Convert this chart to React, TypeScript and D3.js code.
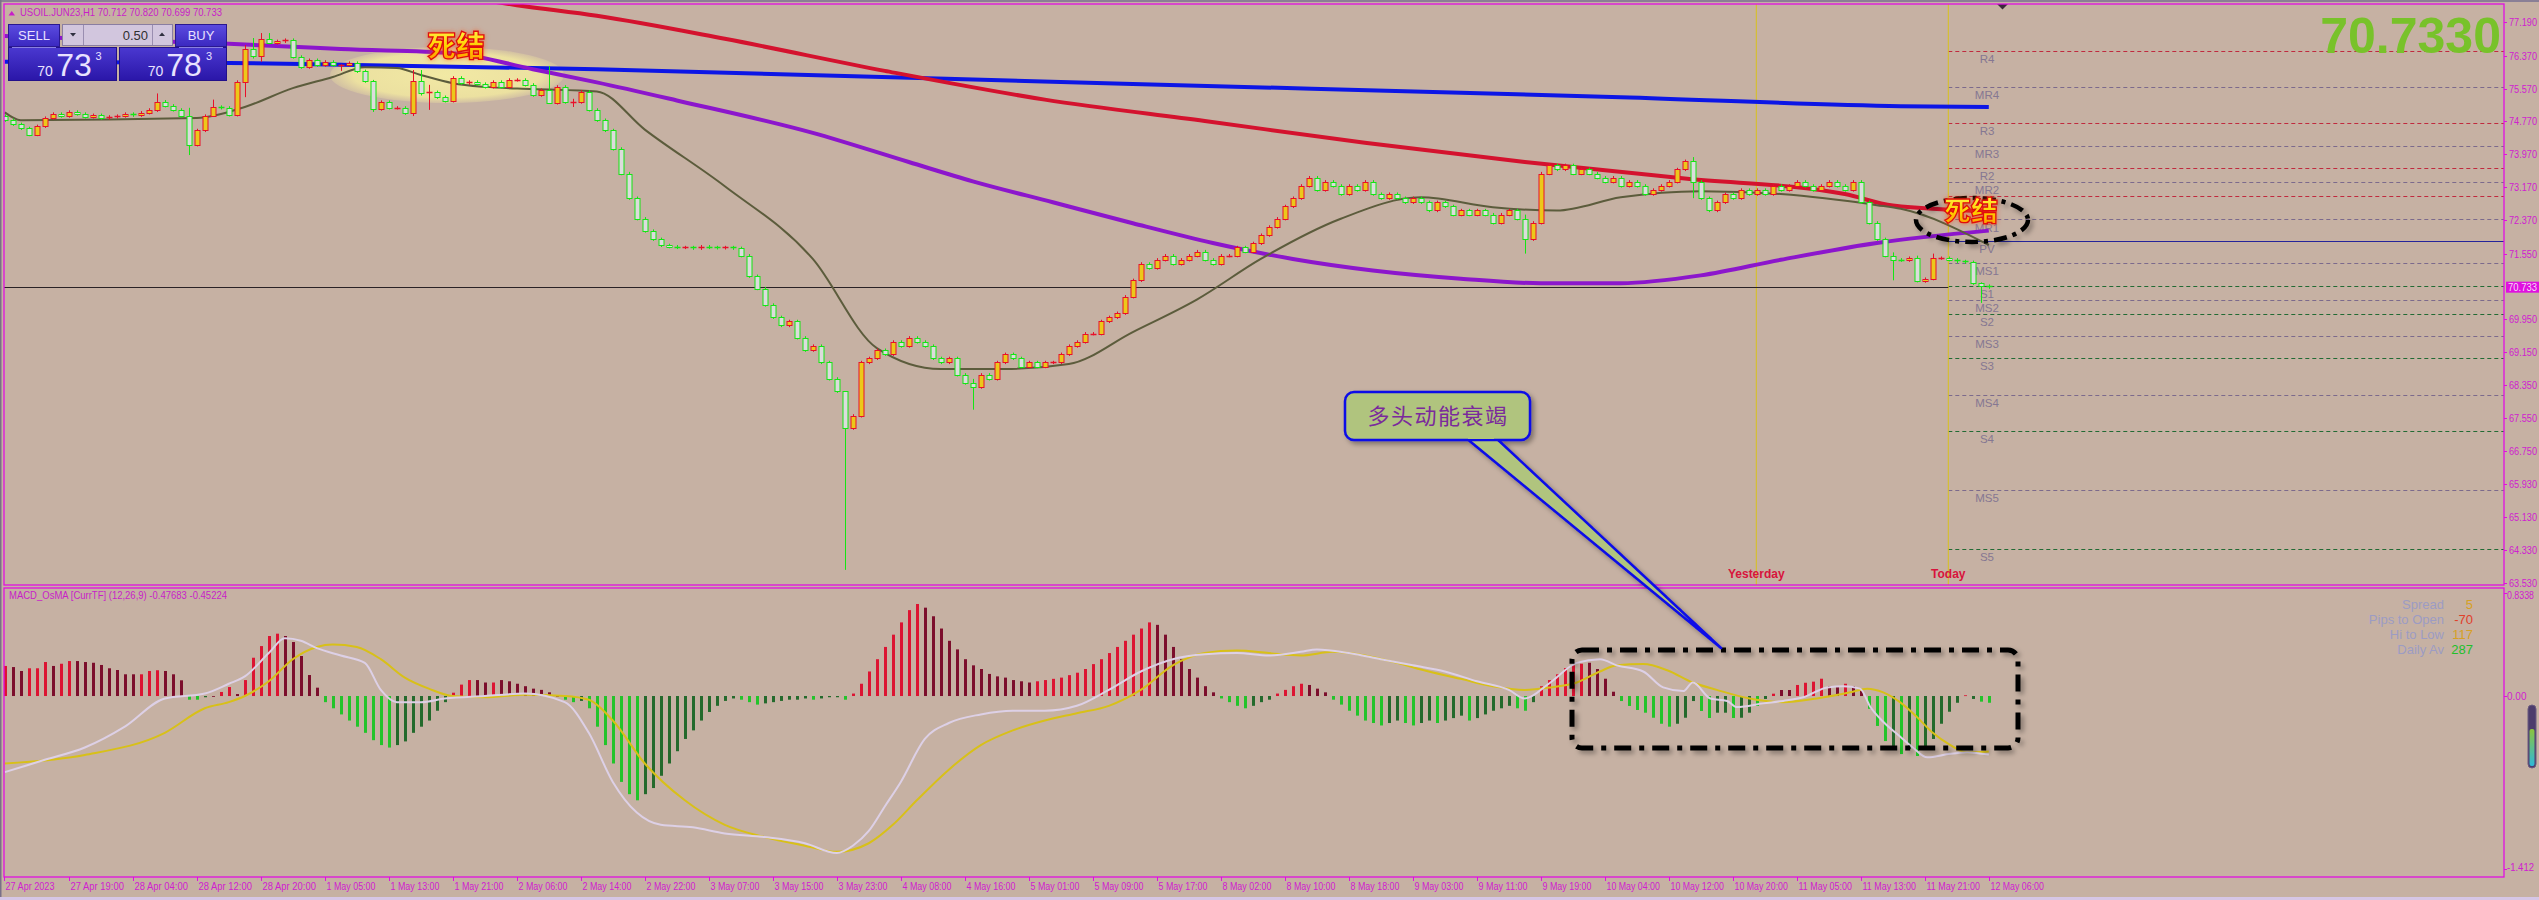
import React from "react";
import * as d3 from "d3";

const W = 2539;
const H = 900;

// ---------------- DATA ----------------
const closes: number[] = [
  74.80, 74.70, 74.60, 74.45, 74.65, 74.85, 74.95, 74.90, 75.00, 74.95,
  74.88, 74.92, 74.85, 74.88, 74.90, 74.95, 74.92, 74.98, 75.05, 75.25,
  75.15, 75.05, 74.90, 74.20, 74.55, 74.90, 75.12, 75.10, 74.93, 75.73,
  76.53, 76.36, 76.78, 76.68, 76.72, 76.75, 76.34, 76.09, 76.26, 76.14,
  76.22, 76.14, 76.15, 76.19, 75.99, 75.75, 75.07, 75.24, 75.10, 75.10,
  74.97, 75.76, 75.46, 75.48, 75.36, 75.27, 75.83, 75.70, 75.73, 75.68,
  75.61, 75.73, 75.61, 75.78, 75.78, 75.66, 75.41, 75.53, 75.22, 75.61,
  75.24, 75.24, 75.49, 75.05, 74.80, 74.55, 74.10, 73.50, 72.90, 72.40,
  72.10, 71.90, 71.75, 71.72, 71.70, 71.70, 71.68, 71.72, 71.70, 71.69,
  71.70, 71.68, 71.50, 71.00, 70.70, 70.30, 70.00, 69.80, 69.90, 69.50,
  69.20, 69.30, 68.90, 68.50, 68.20, 67.30, 67.60, 68.90, 69.00, 69.20,
  69.10, 69.40, 69.30, 69.50, 69.40, 69.30, 69.00, 68.90, 69.00, 68.60,
  68.40, 68.30, 68.60, 68.50, 68.90, 69.10, 69.00, 68.80, 68.90, 68.80,
  68.90, 68.90, 69.10, 69.30, 69.40, 69.60, 69.60, 69.90, 70.00, 70.10,
  70.50, 70.90, 71.30, 71.20, 71.40, 71.50, 71.30, 71.40, 71.50, 71.60,
  71.40, 71.30, 71.50, 71.50, 71.70, 71.60, 71.80, 72.00, 72.20, 72.40,
  72.70, 72.90, 73.20, 73.40, 73.10, 73.30, 73.20, 73.00, 73.20, 73.10,
  73.30, 73.00, 72.90, 73.00, 72.90, 72.80, 72.90, 72.80, 72.60, 72.80,
  72.70, 72.50, 72.60, 72.50, 72.60, 72.50, 72.30, 72.50, 72.60, 72.40,
  71.90, 72.30, 73.50, 73.70, 73.60, 73.70, 73.50, 73.60, 73.50, 73.40,
  73.30, 73.40, 73.20, 73.30, 73.20, 73.00, 73.10, 73.20, 73.30, 73.60,
  73.80, 73.30, 72.90, 72.60, 72.80, 73.00, 72.90, 73.10, 73.00, 73.10,
  73.00, 73.20, 73.10, 73.20, 73.30, 73.20, 73.10, 73.20, 73.30, 73.20,
  73.10, 73.30, 72.80, 72.30, 71.90, 71.50, 71.40, 71.39, 71.44, 70.88,
  70.93, 71.44, 71.44, 71.40, 71.36, 71.34, 70.83, 70.76, 70.733,
];
const firstOpen = 74.9;

// [bar, high, low] for bars with notable shadows
const wicks: [number, number, number][] = [
  [19, 75.45, 75.0], [23, 75.1, 73.95], [26, 75.3, 74.9], [30, 76.63, 75.36],
  [31, 76.8, 76.3], [32, 76.92, 76.22], [33, 76.92, 76.65], [42, 76.16, 76.0],
  [46, 75.78, 75.0], [51, 76.02, 74.9], [52, 76.02, 75.4], [53, 75.66, 75.05],
  [68, 76.12, 75.2], [71, 75.32, 75.12], [105, 68.1, 63.85], [121, 68.5, 67.75],
  [190, 72.5, 71.55], [211, 73.9, 72.9], [236, 71.58, 70.9], [239, 71.5, 70.85],
  [241, 71.55, 70.9], [247, 70.85, 70.35],
];

const redMA: [number, number][] = [
  [60, 77.72], [64, 77.6], [74, 77.34], [90, 76.78], [110, 76.0], [130, 75.3],
  [150, 74.78], [170, 74.25], [190, 73.78], [210, 73.38], [230, 73.0], [236, 72.72], [248, 72.58],
];
const blueMA: [number, number][] = [
  [0, 76.22], [28, 76.19], [37, 76.17], [74, 76.04], [141, 75.68], [202, 75.36], [237, 75.14], [248, 75.12],
];
const purpleMA: [number, number][] = [
  [0, 76.85], [28, 76.66], [36, 76.59], [42, 76.53], [56, 76.43], [66, 76.04], [74, 75.72],
  [84, 75.28], [101, 74.49], [113, 73.78], [121, 73.31], [131, 72.8], [141, 72.29], [151, 71.81],
  [161, 71.42], [171, 71.14], [182, 70.94], [192, 70.83], [202, 70.83], [212, 71.02], [222, 71.4],
  [234, 71.81], [248, 72.11],
];
const oliveMA: [number, number][] = [
  [0, 74.99], [2, 74.8], [24, 74.85], [30, 75.12], [36, 75.58], [41, 75.85], [45, 76.09],
  [49, 76.07], [52, 75.9], [56, 75.7], [60, 75.61], [66, 75.56], [74, 75.5], [80, 74.57],
  [90, 73.19], [101, 71.42], [109, 69.25], [117, 68.74], [125, 68.74], [133, 68.86], [141, 69.64],
  [149, 70.43], [157, 71.42], [167, 72.4], [177, 72.92], [186, 72.68], [194, 72.6], [202, 72.92],
  [212, 73.07], [222, 73.0], [234, 72.73], [237, 72.64], [248, 71.76],
];

// MACD OsMA histogram (one value per bar) and shade (1 = bright, 0 = dark)
const histVals: number[] = [
  0.245, 0.236, 0.204, 0.226, 0.226, 0.277, 0.245, 0.263, 0.285, 0.285,
  0.277, 0.271, 0.253, 0.226, 0.212, 0.177, 0.177, 0.177, 0.204, 0.21,
  0.204, 0.177, 0.128, -0.03, -0.03, -0.01, 0.0, 0.033, 0.073, 0.016,
  0.13, 0.312, 0.407, 0.489, 0.508, 0.489, 0.44, 0.326, 0.171, 0.068,
  -0.05, -0.1, -0.15, -0.2, -0.25, -0.3, -0.36, -0.4, -0.42, -0.4,
  -0.37, -0.3, -0.25, -0.2, -0.12, -0.05, 0.027, 0.093, 0.13, 0.13,
  0.11, 0.11, 0.13, 0.12, 0.1, 0.08, 0.06, 0.05, 0.03, 0.0,
  -0.03, -0.05, -0.04, -0.1, -0.25, -0.4, -0.55, -0.7, -0.8, -0.85,
  -0.8, -0.75, -0.65, -0.55, -0.45, -0.35, -0.28, -0.2, -0.13, -0.08,
  -0.04, -0.02, -0.03, -0.05, -0.07, -0.06, -0.05, -0.04, -0.03, -0.03,
  -0.02, -0.03, -0.02, -0.01, -0.01, -0.03, 0.02, 0.1, 0.2, 0.3,
  0.4, 0.5, 0.6, 0.7, 0.75, 0.72, 0.65, 0.55, 0.45, 0.38,
  0.3, 0.25, 0.22, 0.18, 0.16, 0.15, 0.13, 0.12, 0.11, 0.12,
  0.13, 0.14, 0.15, 0.17, 0.19, 0.22, 0.26, 0.3, 0.35, 0.4,
  0.45, 0.5, 0.55, 0.6, 0.58, 0.5, 0.4, 0.3, 0.22, 0.15,
  0.08, 0.03, -0.02, -0.05, -0.08, -0.1, -0.08, -0.05, -0.03, 0.02,
  0.05, 0.08, 0.1, 0.09, 0.06, 0.03, -0.03, -0.07, -0.12, -0.16,
  -0.2, -0.22, -0.24, -0.22, -0.2, -0.22, -0.24, -0.22, -0.2, -0.22,
  -0.2, -0.18, -0.16, -0.2, -0.18, -0.15, -0.12, -0.1, -0.08, -0.1,
  -0.12, -0.05, 0.08, 0.13, 0.177, 0.228, 0.25, 0.263, 0.271, 0.22,
  0.141, 0.035, -0.041, -0.081, -0.114, -0.136, -0.177, -0.226, -0.25, -0.226,
  -0.177, -0.041, -0.122, -0.179, -0.136, -0.136, -0.179, -0.177, -0.136, -0.081,
  -0.024, 0.019, 0.049, 0.049, 0.09, 0.108, 0.117, 0.141, 0.081, 0.073,
  0.1, 0.081, 0.041, -0.104, -0.244, -0.367, -0.407, -0.473, -0.432, -0.489,
  -0.421, -0.35, -0.226, -0.128, -0.055, 0.006, -0.024, -0.046, -0.055,
];
const histShade: number[] = [
  1, 0, 0, 1, 1, 1, 0, 1, 1, 0, 0, 0, 0, 0, 0, 0, 0, 1, 1, 1,
  0, 0, 0, 1, 1, 0, 0, 1, 1, 0, 1, 1, 1, 1, 1, 0, 0, 0, 0, 0,
  1, 1, 1, 1, 1, 1, 1, 1, 1, 0, 0, 0, 0, 0, 0, 0, 1, 1, 1, 0,
  0, 1, 0, 0, 0, 0, 0, 0, 0, 0, 1, 1, 0, 1, 1, 1, 1, 1, 1, 1,
  0, 0, 0, 0, 0, 0, 0, 0, 0, 0, 0, 0, 1, 1, 1, 0, 0, 0, 0, 0,
  0, 1, 0, 0, 0, 1, 1, 1, 1, 1, 1, 1, 1, 1, 1, 0, 0, 0, 0, 0,
  0, 0, 0, 0, 0, 0, 0, 0, 0, 1, 1, 1, 1, 1, 1, 1, 1, 1, 1, 1,
  1, 1, 1, 1, 0, 0, 0, 0, 0, 0, 0, 0, 1, 1, 1, 1, 0, 0, 0, 1,
  1, 1, 1, 0, 0, 0, 1, 1, 1, 1, 1, 1, 1, 0, 0, 1, 1, 0, 0, 1,
  0, 0, 0, 1, 0, 0, 0, 0, 0, 1, 1, 0, 1, 1, 1, 1, 1, 1, 0, 0,
  0, 0, 1, 1, 1, 1, 1, 1, 1, 0, 0, 0, 1, 1, 0, 0, 1, 0, 0, 1,
  0, 1, 0, 0, 1, 1, 1, 1, 0, 0, 1, 0, 0, 1, 1, 1, 0, 1, 0, 1,
  0, 0, 0, 0, 0, 1, 0, 1, 1,
];
const macdLine: [number, number][] = [
  [0, -0.62], [5, -0.52], [10, -0.42], [15, -0.25], [20, -0.02], [25, 0.02], [28, 0.1],
  [30, 0.16], [33, 0.35], [35, 0.47], [37, 0.45], [39, 0.39], [42, 0.33], [45, 0.27],
  [47, 0.05], [49, -0.05], [52, -0.05], [55, -0.02], [60, 0.0], [65, 0.02], [70, -0.05],
  [73, -0.3], [76, -0.7], [79, -0.95], [82, -1.05], [86, -1.07], [90, -1.12], [95, -1.15],
  [100, -1.2], [104, -1.28], [106, -1.22], [108, -1.1], [110, -0.9], [112, -0.7], [115, -0.35],
  [118, -0.22], [122, -0.15], [126, -0.12], [130, -0.12], [134, -0.08], [138, 0.05], [142, 0.2],
  [146, 0.3], [150, 0.34], [154, 0.35], [158, 0.33], [162, 0.36], [164, 0.38], [168, 0.35],
  [172, 0.3], [176, 0.25], [180, 0.2], [184, 0.12], [188, 0.05], [190, -0.02], [193, 0.1],
  [196.5, 0.27], [199.4, 0.3], [201.5, 0.25], [204.8, 0.2], [207.3, 0.07], [209.8, 0.04],
  [211, 0.11], [213.2, -0.02], [215.3, -0.04], [216.5, -0.09], [219.8, -0.06], [222.3, -0.04],
  [224.8, -0.01], [227.8, 0.07], [229.8, 0.08], [231.9, 0.06], [233.2, -0.09], [234.8, -0.21],
  [236.9, -0.33], [238.5, -0.42], [240.3, -0.5], [243.2, -0.47], [245.3, -0.46], [248, -0.477],
];
const signalLine: [number, number][] = [
  [0, -0.55], [10, -0.48], [20, -0.3], [25, -0.1], [28, -0.05], [30, 0.0], [33, 0.12],
  [36, 0.3], [39, 0.4], [41, 0.42], [44, 0.4], [47, 0.3], [50, 0.15], [53, 0.06], [56, 0.0],
  [60, -0.01], [65, 0.01], [70, 0.0], [73, -0.03], [76, -0.2], [80, -0.55], [85, -0.85],
  [90, -1.05], [95, -1.15], [100, -1.22], [104, -1.27], [108, -1.2], [111, -1.05], [114, -0.85],
  [118, -0.6], [122, -0.4], [126, -0.28], [130, -0.2], [134, -0.14], [138, -0.08], [142, 0.05],
  [146, 0.25], [150, 0.35], [154, 0.37], [158, 0.35], [162, 0.33], [166, 0.36], [170, 0.33],
  [174, 0.27], [178, 0.2], [182, 0.14], [186, 0.08], [190, 0.05], [193.2, 0.07], [196.5, 0.11],
  [199.4, 0.2], [201.5, 0.25], [204.8, 0.26], [207.8, 0.21], [211, 0.11], [214, 0.05],
  [218.1, -0.02], [222.3, -0.05], [226.5, -0.02], [230.7, 0.03], [232.8, 0.06], [234.8, 0.03],
  [236.9, -0.05], [239, -0.17], [241, -0.3], [243.2, -0.4], [245.3, -0.46], [248, -0.452],
];

const priceTicks = [77.19, 76.37, 75.57, 74.77, 73.97, 73.17, 72.37, 71.55, 69.95, 69.15, 68.35, 67.55, 66.75, 65.93, 65.13, 64.33, 63.53];
const macdTicks = ["0.8338", "0.00", "-1.412"];
const timeLabels = [
  "27 Apr 2023", "27 Apr 19:00", "28 Apr 04:00", "28 Apr 12:00", "28 Apr 20:00", "1 May 05:00",
  "1 May 13:00", "1 May 21:00", "2 May 06:00", "2 May 14:00", "2 May 22:00", "3 May 07:00",
  "3 May 15:00", "3 May 23:00", "4 May 08:00", "4 May 16:00", "5 May 01:00", "5 May 09:00",
  "5 May 17:00", "8 May 02:00", "8 May 10:00", "8 May 18:00", "9 May 03:00", "9 May 11:00",
  "9 May 19:00", "10 May 04:00", "10 May 12:00", "10 May 20:00", "11 May 05:00", "11 May 13:00",
  "11 May 21:00", "12 May 06:00",
];
const timeLabelBars = timeLabels.map((_, k) => k * 8);

const pivotNames = ["R4", "MR4", "R3", "MR3", "R2", "MR2", "R1", "MR1", "PV", "MS1", "S1", "MS2", "S2", "MS3", "S3", "MS4", "S4", "MS5", "S5"];
const pivotValues = [76.476, 75.6, 74.723, 74.17, 73.627, 73.286, 72.946, 72.386, 71.865, 71.315, 70.762, 70.414, 70.08, 69.537, 69.001, 68.101, 67.224, 65.787, 64.35];
// R1 label is hidden under the annotation in the original
const hiddenPivotLabels = ["R1"];

const statLabels = ["Spread", "Pips to Open", "Hi to Low", "Daily Av"];
const statValues = ["5", "-70", "117", "287"];
const statColors = ["#d6a024", "#e0402a", "#d6a024", "#22c02a"];

const yesterdayBar = 219;
const todayBar = 243;
const lastPrice = 70.733;

// ---------------- LAYOUT ----------------
const L = 4, R = 2504;
const mainTop = 4, mainBot = 585;
const macdTop = 588, macdBot = 877;

const BG = "#c6b1a3";
const FRAME = "#e010e0";
const AXTXT = "#d020d0";

export default function App() {
  const x = d3.scaleLinear().domain([0, 248]).range([4.8, 1988.8]);
  const y = d3.scaleLinear().domain([63.481, 77.628]).range([mainBot, mainTop]);
  const ym = d3.scaleLinear().domain([-1.4123, 0.83387]).range([869.3, 593.7]);

  const wickMap = new Map<number, [number, number]>();
  wicks.forEach(([i, h, l]) => wickMap.set(i, [h, l]));
  const candles = closes.map((c, i) => {
    const o = i === 0 ? firstOpen : closes[i - 1];
    const w = wickMap.get(i);
    const h = w ? w[0] : Math.max(o, c) + 0.04;
    const l = w ? w[1] : Math.min(o, c) - 0.04;
    return { i, o, h, l, c };
  });

  const maLine = d3
    .line<[number, number]>()
    .x((d) => x(d[0]))
    .y((d) => y(d[1]))
    .curve(d3.curveMonotoneX);
  const mLine = d3
    .line<[number, number]>()
    .x((d) => x(d[0]))
    .y((d) => ym(d[1]))
    .curve(d3.curveMonotoneX);

  const xToday = x(todayBar) - 0.5;
  const xYest = x(yesterdayBar) - 0.5;
  const mono = "'Liberation Sans', Arial, sans-serif";
  const cjk = "'Noto Sans CJK SC', sans-serif";

  return (
    <svg
      width={W}
      height={H}
      viewBox={`0 0 ${W} ${H}`}
      style={{ position: "absolute", left: 0, top: 0, display: "block" }}
      fontFamily={mono}
    >
      <defs>
        <clipPath id="clipMain">
          <rect x={L} y={mainTop} width={R - L} height={mainBot - mainTop} />
        </clipPath>
        <clipPath id="clipMacd">
          <rect x={L} y={macdTop} width={R - L} height={macdBot - macdTop} />
        </clipPath>
        <linearGradient id="sjGrad" x1="0" y1="0" x2="0" y2="1">
          <stop offset="0" stopColor="#ffff60" />
          <stop offset="0.55" stopColor="#ffd000" />
          <stop offset="1" stopColor="#ff8a00" />
        </linearGradient>
        <linearGradient id="btnGrad" x1="0" y1="0" x2="0" y2="1">
          <stop offset="0" stopColor="#5c4ce0" />
          <stop offset="1" stopColor="#3a28c0" />
        </linearGradient>
        <linearGradient id="pxGrad" x1="0" y1="0" x2="0" y2="1">
          <stop offset="0" stopColor="#4a38d0" />
          <stop offset="1" stopColor="#2a16a8" />
        </linearGradient>
        <linearGradient id="gaugeGrad" x1="0" y1="0" x2="0" y2="1">
          <stop offset="0" stopColor="#8cc43c" />
          <stop offset="1" stopColor="#30b8d8" />
        </linearGradient>
        <radialGradient id="ellGrad">
          <stop offset="0" stopColor="#f4eca4" stopOpacity="0.95" />
          <stop offset="0.8" stopColor="#f0e6a0" stopOpacity="0.9" />
          <stop offset="1" stopColor="#efe4a0" stopOpacity="0.3" />
        </radialGradient>
        <filter id="glow" x="-30%" y="-30%" width="160%" height="160%">
          <feGaussianBlur in="SourceAlpha" stdDeviation="2.5" result="b" />
          <feFlood floodColor="#ff4000" floodOpacity="0.6" />
          <feComposite in2="b" operator="in" result="g" />
          <feMerge>
            <feMergeNode in="g" />
            <feMergeNode in="SourceGraphic" />
          </feMerge>
        </filter>
        <filter id="shadow" x="-10%" y="-20%" width="130%" height="150%">
          <feDropShadow dx="3" dy="3" stdDeviation="2.5" floodColor="#000" floodOpacity="0.35" />
        </filter>
      </defs>

      <rect x={0} y={0} width={W} height={H} fill={BG} />
      <rect x={0} y={0} width={W} height={2} fill="#8a7f96" />
      <rect x={0} y={0} width={1.5} height={H} fill="#7a7088" />
      <rect x={0} y={897} width={W} height={3} fill="#d6c6e6" />

      {/* ---------- MAIN PANEL ---------- */}
      <g clipPath="url(#clipMain)">
        <ellipse cx={447} cy={75} rx={117} ry={28} fill="url(#ellGrad)" />

        {pivotNames.map((n, k) => {
          const yy = Math.round(y(pivotValues[k])) + 0.5;
          const col = n === "PV" ? "#24249a" : n.startsWith("M") ? "#7c6a8c" : n.startsWith("R") ? "#c02a3e" : "#226a34";
          return (
            <g key={n}>
              <line
                x1={xToday}
                x2={R}
                y1={yy}
                y2={yy}
                stroke={col}
                strokeWidth={1}
                strokeDasharray={n === "PV" ? undefined : "4 3"}
              />
              {hiddenPivotLabels.includes(n) ? null : (
                <text x={1987} y={yy + (n === "MR1" ? 12.5 : 11.5)} fontSize={11.5} fill="#857792" textAnchor="middle">
                  {n}
                </text>
              )}
            </g>
          );
        })}

        <line x1={xYest} x2={xYest} y1={mainTop} y2={mainBot} stroke="#d8c21c" strokeWidth={1} />
        <line x1={xToday} x2={xToday} y1={mainTop} y2={mainBot} stroke="#d8c21c" strokeWidth={1} />

        <line x1={L} x2={xToday} y1={Math.round(y(lastPrice)) + 0.5} y2={Math.round(y(lastPrice)) + 0.5} stroke="#2a2226" strokeWidth={1} />

        <path d={maLine(blueMA) || ""} fill="none" stroke="#0c16e6" strokeWidth={4} />
        <path d={maLine(redMA) || ""} fill="none" stroke="#d4122e" strokeWidth={4} />
        <path d={maLine(purpleMA) || ""} fill="none" stroke="#8c16cc" strokeWidth={4} />
        <path d={maLine(oliveMA) || ""} fill="none" stroke="#5c5c3c" strokeWidth={2} />

        {candles.map((d) => {
          const cx = Math.round(x(d.i)) + 0.5;
          const bull = d.c >= d.o;
          const stroke = bull ? "#e8102a" : "#14e614";
          const fill = bull ? "#ecc81a" : "#dcdcdc";
          const yTop = Math.round(y(Math.max(d.o, d.c))) + 0.5;
          const yBot = Math.round(y(Math.min(d.o, d.c))) + 0.5;
          const doji = yBot - yTop < 2;
          return (
            <g key={d.i}>
              <line x1={cx} x2={cx} y1={y(d.h)} y2={y(d.l)} stroke={stroke} strokeWidth={1} />
              {doji ? (
                <line x1={cx - 3} x2={cx + 3} y1={yTop} y2={yTop} stroke={stroke} strokeWidth={1.5} />
              ) : (
                <rect x={cx - 2.5} y={yTop} width={5} height={yBot - yTop} fill={fill} stroke={stroke} strokeWidth={1} />
              )}
            </g>
          );
        })}

        <text
          x={456}
          y={57}
          fontFamily={cjk}
          fontWeight={900}
          fontSize={29}
          textAnchor="middle"
          fill="url(#sjGrad)"
          stroke="#e00a0a"
          strokeWidth={1.3}
          filter="url(#glow)"
        >
          死结
        </text>

        <ellipse
          cx={1972}
          cy={220}
          rx={56}
          ry={22}
          fill="none"
          stroke="#000"
          strokeWidth={4.5}
          strokeDasharray="13 6 4 6"
          filter="url(#shadow)"
        />
        <text
          x={1971}
          y={221}
          fontFamily={cjk}
          fontWeight={900}
          fontSize={27}
          textAnchor="middle"
          fill="url(#sjGrad)"
          stroke="#e00a0a"
          strokeWidth={1.3}
          filter="url(#glow)"
        >
          死结
        </text>

        <text x={xYest} y={578} fontSize={12} fontWeight="bold" fill="#d8143c" textAnchor="middle">
          Yesterday
        </text>
        <text x={xToday} y={578} fontSize={12} fontWeight="bold" fill="#d8143c" textAnchor="middle">
          Today
        </text>

        <text x={2501} y={53} fontSize={50} fontWeight="bold" fill="#78c22a" textAnchor="end" fontFamily="'Liberation Sans', Arial">
          70.7330
        </text>

        <polygon points="1997,4 2008,4 2002.5,9.5" fill="#3a2a3a" />

        <polygon points="8.5,15.5 15,15.5 11.75,11" fill="#c81ec8" />
        <text x={20} y={16} fontSize={10.5} fill="#c81ec8" textLength={202} lengthAdjust="spacingAndGlyphs">
          USOIL.JUN23,H1  70.712 70.820 70.699 70.733
        </text>

        <g>
          <rect x={8.5} y={24.5} width={51} height={22} fill="url(#btnGrad)" stroke="#2a1890" />
          <text x={34} y={40} fontSize={13} fill="#e8e0ff" textAnchor="middle">SELL</text>
          <rect x={175.5} y={24.5} width={51} height={22} fill="url(#btnGrad)" stroke="#2a1890" />
          <text x={201} y={40} fontSize={13} fill="#e8e0ff" textAnchor="middle">BUY</text>
          <rect x={62.5} y={24.5} width={110} height={21} fill="#d2c6de" stroke="#8a7ea2" />
          <line x1={83.5} x2={83.5} y1={25} y2={45} stroke="#9a8eb0" />
          <line x1={152.5} x2={152.5} y1={25} y2={45} stroke="#9a8eb0" />
          <polygon points="70,33 76,33 73,36.5" fill="#303040" />
          <polygon points="159,36 165,36 162,32.5" fill="#303040" />
          <text x={148} y={40} fontSize={13} fill="#303030" textAnchor="end">0.50</text>
          <rect x={8.5} y={47.5} width={108} height={33} fill="url(#pxGrad)" stroke="#22108a" />
          <rect x={119.5} y={47.5} width={107} height={33} fill="url(#pxGrad)" stroke="#22108a" />
          <line x1={12} x2={56} y1={47.5} y2={47.5} stroke="#8a80e0" />
          <line x1={179} x2={223} y1={47.5} y2={47.5} stroke="#8a80e0" />
          <text x={45} y={76} fontSize={14} fill="#e8e2ff" textAnchor="middle">70</text>
          <text x={74} y={76} fontSize={32} fill="#e8e2ff" textAnchor="middle">73</text>
          <text x={98.5} y={60} fontSize={11} fill="#e8e2ff" textAnchor="middle">3</text>
          <text x={155.5} y={76} fontSize={14} fill="#e8e2ff" textAnchor="middle">70</text>
          <text x={184} y={76} fontSize={32} fill="#e8e2ff" textAnchor="middle">78</text>
          <text x={209} y={60} fontSize={11} fill="#e8e2ff" textAnchor="middle">3</text>
        </g>
      </g>

      <rect x={L} y={mainTop} width={R - L} height={mainBot - mainTop} fill="none" stroke={FRAME} strokeWidth={1.3} />

      {priceTicks.map((p) => {
        const yy = Math.round(y(p)) + 0.5;
        return (
          <g key={p}>
            <line x1={R} x2={R + 3} y1={yy} y2={yy} stroke={FRAME} />
            <text x={2509} y={yy + 3.5} fontSize={10} fill={AXTXT} textLength={28} lengthAdjust="spacingAndGlyphs">
              {p.toFixed(3)}
            </text>
          </g>
        );
      })}
      <rect x={2506} y={y(lastPrice) - 5.5} width={33} height={11} fill="#e010e0" />
      <text x={2508} y={y(lastPrice) + 4} fontSize={10} fill="#f4dcf4" textLength={29} lengthAdjust="spacingAndGlyphs">
        70.733
      </text>

      {/* ---------- MACD PANEL ---------- */}
      <g clipPath="url(#clipMacd)">
        {histVals.map((v, i) => {
          const cx = Math.round(x(i));
          const y0 = ym(0);
          const y1 = ym(v);
          const pos = v >= 0;
          const col = pos ? (histShade[i] ? "#dc1432" : "#7c0e2c") : histShade[i] ? "#22c42a" : "#246a2c";
          return (
            <rect key={i} x={cx - 1} y={Math.min(y0, y1)} width={3} height={Math.max(0.8, Math.abs(y1 - y0))} fill={col} />
          );
        })}
        <path d={mLine(signalLine) || ""} fill="none" stroke="#d8c018" strokeWidth={2} />
        <path d={mLine(macdLine) || ""} fill="none" stroke="#ddd0e6" strokeWidth={2} />

        <text x={9} y={599} fontSize={10.5} fill="#c81ec8" textLength={218} lengthAdjust="spacingAndGlyphs">
          MACD_OsMA [CurrTF] (12,26,9) -0.47683 -0.45224
        </text>

        {statLabels.map((s, k) => (
          <g key={s}>
            <text x={2444} y={609 + k * 15} fontSize={13} fill="#9c9cc4" textAnchor="end">{s}</text>
            <text x={2473} y={609 + k * 15} fontSize={13} fill={statColors[k]} textAnchor="end" fontWeight={500}>
              {statValues[k]}
            </text>
          </g>
        ))}

        <rect
          x={1572}
          y={650}
          width={446}
          height={98}
          rx={10}
          fill="none"
          stroke="#000"
          strokeWidth={5}
          strokeDasharray="17 8 5 8"
          filter="url(#shadow)"
        />
      </g>
      <rect x={L} y={macdTop} width={R - L} height={macdBot - macdTop} fill="none" stroke={FRAME} strokeWidth={1.3} />

      {macdTicks.map((t, k) => {
        const yy = k === 0 ? 593.5 : k === 2 ? 869.5 : Math.round(ym(0)) + 0.5;
        return (
          <g key={t}>
            <line x1={R} x2={R + 3} y1={yy} y2={yy} stroke={FRAME} />
            <text
              x={2507}
              y={k === 0 ? yy + 5 : k === 2 ? yy + 1.5 : yy + 3.5}
              fontSize={10}
              fill={AXTXT}
              textLength={t.length > 4 ? 27 : undefined}
              lengthAdjust="spacingAndGlyphs"
            >
              {t}
            </text>
          </g>
        );
      })}

      <rect x={2528} y={705} width={8} height={63} rx={4} fill="#4c3c6c" stroke="#6a5a80" />
      <rect x={2529.5} y={729} width={5} height={37} rx={2} fill="url(#gaugeGrad)" />

      {timeLabels.map((t, k) => {
        const xx = k === 0 ? 4.5 : Math.round(x(timeLabelBars[k])) + 0.5;
        return (
          <g key={t}>
            <line x1={xx} x2={xx} y1={macdBot} y2={macdBot + 4} stroke={FRAME} />
            <text x={xx + 1} y={890} fontSize={10} fill={AXTXT} textLength={t.length * 4.45} lengthAdjust="spacingAndGlyphs">
              {t}
            </text>
          </g>
        );
      })}

      <g filter="url(#shadow)">
        <polygon points="1466,438 1496,438 1721,648" fill="#b0c47e" stroke="#0a0ae8" strokeWidth={2.5} strokeLinejoin="round" />
        <rect x={1345} y={392} width={185} height={48} rx={9} fill="#b0c47e" stroke="#0a0ae8" strokeWidth={2.5} />
        <rect x={1468} y={436} width={26} height={3} fill="#b0c47e" />
      </g>
      <text x={1438} y={424} fontSize={22} fill="#7a2a9c" textAnchor="middle" fontFamily="'Noto Sans CJK SC', serif" letterSpacing={1.5}>
        多头动能衰竭
      </text>
    </svg>
  );
}
